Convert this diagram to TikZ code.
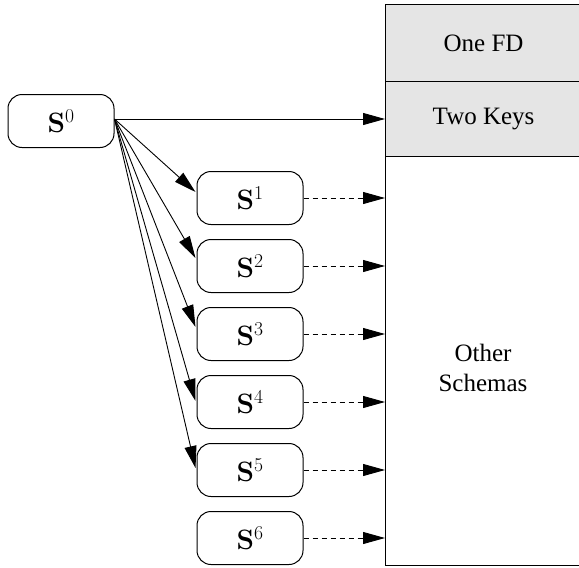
\documentclass[tikz,border=0pt]{standalone}
\usepackage{fix-cm}
\usepackage[no-math]{fontspec}
\setmainfont{Liberation Serif}
\usetikzlibrary{arrows.meta,calc}
\tikzset{
  snode/.style={draw, line width=1pt, rounded corners=14pt, minimum width=106pt, minimum height=53pt, inner sep=0pt, font=\fontsize{28}{33}\selectfont},
  part/.style={draw, line width=1.2pt, minimum width=196pt, inner sep=0pt, anchor=north west, font=\fontsize{25}{30}\selectfont, align=center},
  tip/.style={-{Triangle[length=22pt,width=12pt]}},
  solidarrow/.style={tip, line width=0.9pt},
  dasharrow/.style={tip, line width=0.9pt, dash pattern=on 5pt off 4pt}
}
\begin{document}
\begin{tikzpicture}[x=1pt,y=-1pt]
\useasboundingbox (0,0) rectangle (579,568);
\node[part, fill=gray!20, minimum height=77pt] (onefd) at (385,4) {One FD};
\node[part, fill=gray!20, minimum height=75pt] (twokeys) at (385,81) {Two Keys};
\node[part, minimum height=409pt, text depth=0pt] (other) at (385,156) {};
\node[font=\fontsize{25}{30}\selectfont, align=center] (otherlbl) at (483,368) {Other\\Schemas};
\node[snode] (s0) at (61,121) {$\mathbf{S}^0$};
\node[snode] (s1) at (250,198) {$\mathbf{S}^1$};
\node[snode] (s2) at (250,266) {$\mathbf{S}^2$};
\node[snode] (s3) at (250,334) {$\mathbf{S}^3$};
\node[snode] (s4) at (250,402) {$\mathbf{S}^4$};
\node[snode] (s5) at (250,470) {$\mathbf{S}^5$};
\node[snode] (s6) at (250,538) {$\mathbf{S}^6$};
\coordinate (o) at ($(s0.east)+(0,-2)$);
\draw[solidarrow] (o) -- (twokeys.west |- o);
\draw[solidarrow] (o) -- ($(s1.west)+(-1,-6)$);
\draw[solidarrow] (o) -- ($(s2.west)+(-1,-8)$);
\draw[solidarrow] (o) -- ($(s3.west)+(-1,-7)$);
\draw[solidarrow] (o) -- ($(s4.west)+(-1,-1)$);
\draw[solidarrow] (o) -- ($(s5.west)+(-1,-2)$);
\foreach \i in {1,...,6} {
  \draw[dasharrow] (s\i.east) -- (other.west |- s\i.east);
}
\end{tikzpicture}
\end{document}
